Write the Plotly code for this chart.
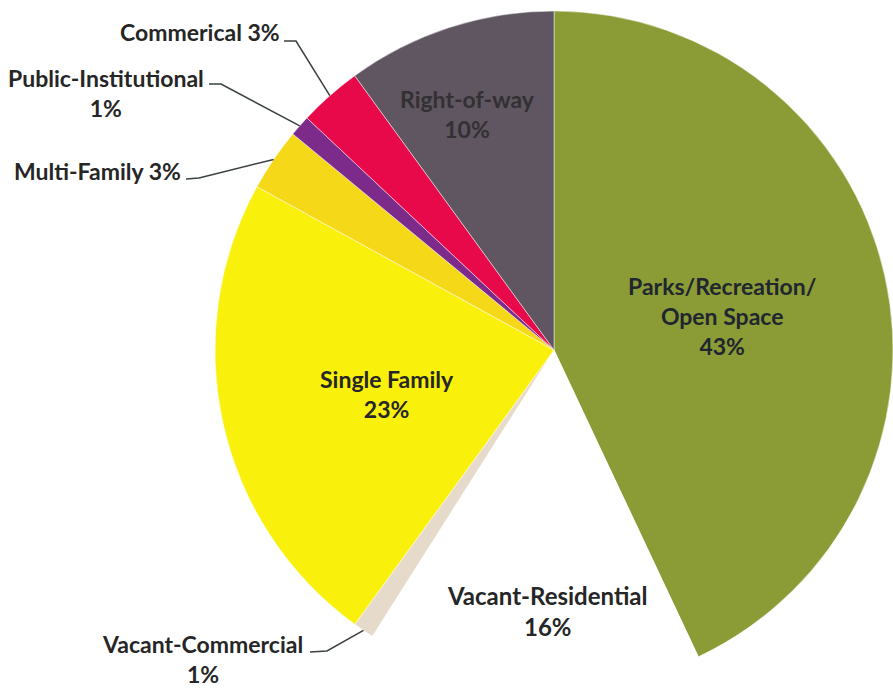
import math
import plotly.graph_objects as go

# ---- data ----
categories = ["Parks/Recreation/ Open Space", "Vacant-Residential", "Vacant-Commercial",
              "Single Family", "Multi-Family", "Public-Institutional", "Commerical", "Right-of-way"]
percent = [43, 16, 1, 23, 3, 1, 3, 10]
colors = ["#8B9B35", "#FFFFFF", "#E6DACB", "#F9F00C", "#F5D818", "#7C2B8B", "#E8094B", "#5F5661"]

W, H = 893, 689
# pie geometry in pixels
LEFT, TOP = 215, 11
R = (W - LEFT) / 2.0
CX, CY = LEFT + R, TOP + R


def px(x):
    return x / W


def py(y):
    return 1 - y / H


fig = go.Figure()
fig.add_trace(go.Pie(
    labels=categories, values=percent, sort=False, direction="clockwise", rotation=0,
    marker=dict(colors=colors, line=dict(color="rgba(255,255,255,0.6)", width=0.8)),
    textinfo="none", hoverinfo="label+percent", showlegend=False,
    domain=dict(x=[px(LEFT), 1], y=[0, py(TOP)]),
))

FONT = dict(family="Lato, 'Open Sans', sans-serif", size=23, color="#262626")


def label(text, x, y, color="#262626", size=23):
    f = dict(FONT)
    f["color"] = color
    f["size"] = size
    fig.add_annotation(x=px(x), y=py(y), xref="paper", yref="paper", text="<b>" + text + "</b>",
                       showarrow=False, font=f, xanchor="center", yanchor="middle", align="center")


# inside labels
label("Parks/Recreation/<br>Open Space<br>43%", 722, 316, "#1F2630")
label("Right-of-way<br>10%", 467, 114, "#333033")
label("Single Family<br>23%", 387, 394)
label("Vacant-Residential<br>16%", 547, 611, size=24)

# outside labels with leader lines
label("Commerical 3%", 200, 32)
label("Public-Institutional<br>1%", 106, 93)
label("Multi-Family 3%", 97, 171)
label("Vacant-Commercial<br>1%", 202, 659)


def anchor(idx):
    total = sum(percent)
    start = sum(percent[:idx])
    frac = (start + percent[idx] / 2.0) / total
    ang = 2 * math.pi * frac
    return CX + R * math.sin(ang), CY - R * math.cos(ang)


leaders = [
    (categories.index("Commerical"), (284, 41), (296, 41)),
    (categories.index("Public-Institutional"), (209, 84), (221, 84)),
    (categories.index("Multi-Family"), (186, 179), (199, 178)),
    (categories.index("Vacant-Commercial"), (310, 652), (327, 651)),
]
for idx, p0, p1 in leaders:
    ax, ay = anchor(idx)
    path = "M %f %f L %f %f L %f %f" % (px(p0[0]), py(p0[1]), px(p1[0]), py(p1[1]), px(ax), py(ay))
    fig.add_shape(type="path", path=path, xref="paper", yref="paper",
                  line=dict(color="#3A4040", width=1.5))

fig.update_layout(width=W, height=H, margin=dict(l=0, r=0, t=0, b=0),
                  paper_bgcolor="white", plot_bgcolor="white")
fig.write_html("out.html", config={"displayModeBar": False},
               post_script="document.body.style.margin='0';document.body.style.overflow='hidden';")
